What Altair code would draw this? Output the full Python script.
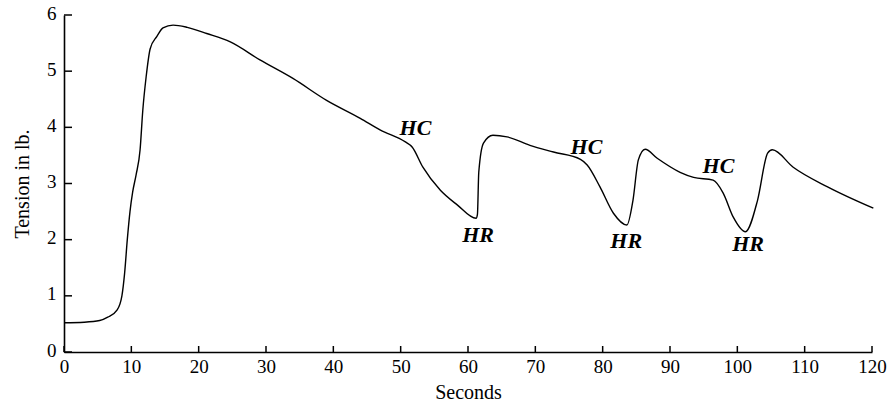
import altair as alt
import pandas as pd

# Curve
seconds = [0, 3, 5.3, 6.5, 7.9, 8.6, 9.0, 9.4, 9.8, 10.2, 10.7, 11.3, 11.7, 12.2, 12.8,
           13.8, 14.7, 16.2, 18.3, 21.2, 24.7, 29.1, 34, 39, 44, 47, 50.7, 51.7, 53.3,
           55.9, 58.4, 61.2, 61.4, 61.6, 62.3, 63.7, 65.8, 69.2, 72.7, 76.7, 77.7, 79.6,
           81.6, 83.6, 84.5, 85.3, 86.3, 88.1, 91.5, 93.5, 96.4, 97.9, 99.4, 101.2, 103,
           104.5, 105.2, 108.3, 113.4, 120.2]
tension = [0.52, 0.53, 0.56, 0.62, 0.75, 1.0, 1.4, 2.0, 2.5, 2.85, 3.15, 3.6, 4.3, 4.9, 5.4,
           5.62, 5.77, 5.82, 5.78, 5.67, 5.52, 5.2, 4.87, 4.48, 4.16, 3.95, 3.74, 3.65, 3.29,
           2.88, 2.62, 2.38, 2.45, 3.2, 3.72, 3.86, 3.83, 3.68, 3.56, 3.43, 3.33, 2.94,
           2.47, 2.26, 2.70, 3.42, 3.61, 3.45, 3.2, 3.11, 3.06, 2.83, 2.40, 2.14, 2.70,
           3.54, 3.6, 3.29, 2.94, 2.56]

# Annotations
note_text = ["HC", "HR", "HC", "HR", "HC", "HR"]
note_x = [52.2, 61.5, 77.6, 83.5, 97.2, 101.6]
note_y = [3.99, 2.08, 3.65, 1.97, 3.31, 1.93]

x_ticks = [0, 10, 20, 30, 40, 50, 60, 70, 80, 90, 100, 110, 120]
y_ticks = [0, 1, 2, 3, 4, 5, 6]

W, H = 808, 337
FONT = "Liberation Serif"

curve = pd.DataFrame({"t": seconds, "v": tension})
notes = pd.DataFrame({"label": note_text, "t": note_x, "v": note_y})
xt = pd.DataFrame({"t": x_ticks})
yt = pd.DataFrame({"v": y_ticks})

xscale = alt.Scale(domain=[0, 120], nice=False, zero=False)
yscale = alt.Scale(domain=[0, 6], nice=False)

common = dict(ticks=False, grid=False, domainColor="black", domainWidth=1.6,
              labelFont=FONT, labelFontSize=19, labelColor="black",
              labelFlush=False, titleFont=FONT, titleFontSize=20,
              titleFontWeight="normal", titleColor="black")
x_axis = alt.Axis(values=x_ticks, format="d", title="Seconds", titlePadding=6,
                  labelPadding=5, **common)
y_axis = alt.Axis(values=y_ticks, format="d", title="Tension in lb.", titlePadding=14,
                  labelPadding=8, labelOffset=-2, **common)

X = alt.X("t:Q", scale=xscale, axis=x_axis)
Y = alt.Y("v:Q", scale=yscale, axis=y_axis)

line = alt.Chart(curve).mark_line(color="black", strokeWidth=1.4, interpolate="monotone").encode(
    x=X, y=Y,
)

text = alt.Chart(notes).mark_text(font=FONT, fontSize=22, fontWeight="bold",
                                  fontStyle="italic", color="black").encode(
    x=X, y=Y, text="label:N",
)

xtick = alt.Chart(xt).mark_rule(color="black", strokeWidth=1.5).encode(
    x=X,
    y=alt.value(H),
    y2=alt.value(H - 6),
)
ytick = alt.Chart(yt).mark_rule(color="black", strokeWidth=1.5).encode(
    y=Y,
    x=alt.value(0),
    x2=alt.value(8),
)

chart = alt.layer(line, text, xtick, ytick).properties(
    width=W, height=H,
    autosize=alt.AutoSizeParams(type="none"),
    padding={"left": 64, "top": 15, "right": 18, "bottom": 53},
    background="white",
).configure_view(stroke=None)

chart.save("out.html", embed_options={"renderer": "svg", "actions": False})
